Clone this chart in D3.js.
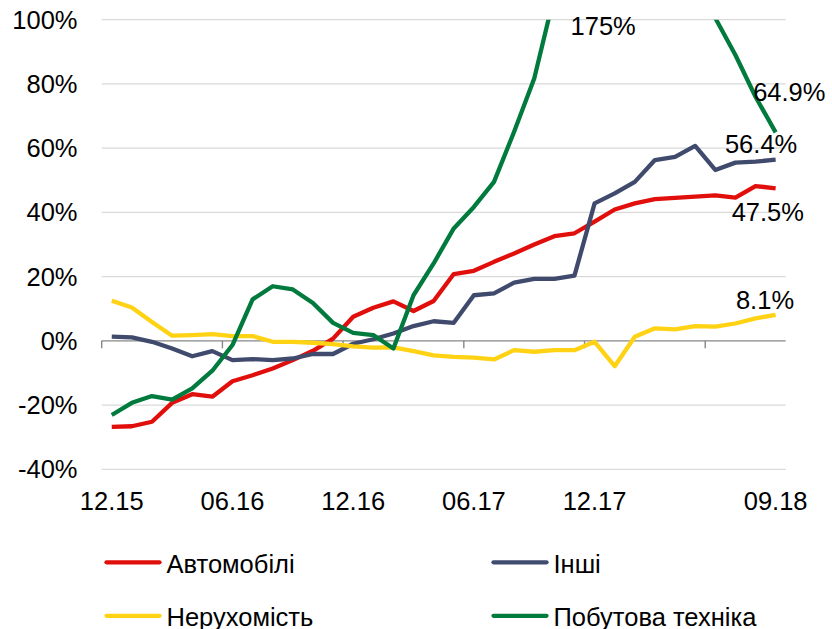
<!DOCTYPE html>
<html>
<head>
<meta charset="utf-8">
<script src="https://cdn.jsdelivr.net/npm/d3@7"></script>
<style>
  html, body { margin: 0; padding: 0; background: #fff; }
  svg { display: block; }
</style>
</head>
<body>
<svg id="chart" width="832" height="629"></svg>
<script>
const categories = ["12.15","01.16","02.16","03.16","04.16","05.16","06.16","07.16","08.16","09.16","10.16","11.16",
  "12.16","01.17","02.17","03.17","04.17","05.17","06.17","07.17","08.17","09.17","10.17","11.17",
  "12.17","01.18","02.18","03.18","04.18","05.18","06.18","07.18","08.18","09.18"];
const tickLabels = ["12.15","06.16","12.16","06.17","12.17","09.18"];
const yTicks = [-40,-20,0,20,40,60,80,100];

const seriesNames = ["Автомобілі","Інші","Нерухомість","Побутова техніка"];
const auto = [-26.8,-26.6,-25.2,-19.3,-16.6,-17.4,-12.6,-10.7,-8.6,-6.0,-3.1,0.7,7.5,10.3,12.3,9.3,12.4,20.8,21.8,24.6,27.2,30.0,32.6,33.5,37.1,40.9,42.8,44.1,44.5,44.9,45.3,44.6,48.2,47.5];
const other = [1.3,1.1,-0.3,-2.4,-4.8,-3.2,-6.0,-5.7,-6.0,-5.5,-4.1,-4.1,-0.9,0.5,2.3,4.6,6.1,5.6,14.2,14.8,18.1,19.3,19.3,20.3,42.8,45.9,49.5,56.3,57.3,60.7,53.2,55.5,55.8,56.4];
const realty = [12.5,10.4,5.9,1.6,1.8,2.1,1.5,1.5,-0.3,-0.3,-0.6,-1.0,-1.7,-2.1,-2.0,-3.2,-4.5,-5.0,-5.2,-5.8,-2.9,-3.4,-2.9,-2.9,-0.3,-7.9,1.3,3.9,3.6,4.6,4.4,5.4,7.0,8.1];
const appliances = [-23.1,-19.3,-17.2,-18.3,-14.8,-9.3,-1.3,12.9,17.0,16.0,11.8,5.6,2.5,1.8,-2.4,14.2,24.1,35.0,41.7,49.5,65.1,81.7,107.6,135,160,175,168,150,130,115,100.5,89.0,76.0,64.9];
const colors = ["#E10F0B","#3F4A6D","#FFD214","#007A3D"];

const svg = d3.select("#chart");
const plotLeft = 101.7, plotRight = 785.7, plotTop = 19.7, plotBottom = 469.3;
const x = d3.scaleBand().domain(categories).range([plotLeft, plotRight]).padding(0);
const y = d3.scaleLinear().domain([-40, 100]).range([plotBottom, plotTop]);
const cx = c => x(c) + x.bandwidth() / 2;
const FONT = "'Liberation Sans', Arial, sans-serif";

// gridlines
svg.append("g").selectAll("line").data(yTicks.filter(d => d !== 0)).join("line")
  .attr("x1", plotLeft).attr("x2", plotRight)
  .attr("y1", d => y(d)).attr("y2", d => y(d))
  .attr("stroke", "#d9d9d9").attr("stroke-width", 1.2);

// y labels
svg.append("g").selectAll("text").data(yTicks).join("text")
  .attr("x", 77.5).attr("y", d => y(d) + 9)
  .attr("text-anchor", "end")
  .style("font-family", FONT).style("font-size", "25.5px").attr("fill", "#000")
  .text(d => d + "%");

// zero axis
svg.append("line").attr("x1", plotLeft).attr("x2", plotRight).attr("y1", y(0)).attr("y2", y(0))
  .attr("stroke", "#878787").attr("stroke-width", 1.4);
const tickIdx = [0, 6, 12, 18, 24, 30];
svg.append("g").selectAll("line").data(tickIdx).join("line")
  .attr("x1", i => x(categories[i])).attr("x2", i => x(categories[i]))
  .attr("y1", y(0)).attr("y2", y(0) + 7.5)
  .attr("stroke", "#878787").attr("stroke-width", 1.4);

// x labels
svg.append("g").selectAll("text").data(tickLabels).join("text")
  .attr("x", d => cx(d)).attr("y", 510)
  .attr("text-anchor", "middle")
  .style("font-family", FONT).style("font-size", "25.5px").attr("fill", "#000")
  .text(d => d);

// clip
svg.append("clipPath").attr("id", "clip").append("rect")
  .attr("x", 0).attr("y", plotTop).attr("width", 832).attr("height", 629 - plotTop);

const allSeries = [auto, other, realty, appliances];
const line = d3.line().x((d, i) => cx(categories[i])).y(d => y(d));
svg.append("g").attr("clip-path", "url(#clip)").selectAll("path").data(allSeries).join("path")
  .attr("d", d => line(d))
  .attr("fill", "none")
  .attr("stroke", (d, i) => colors[i])
  .attr("stroke-width", 4.3)
  .attr("stroke-linejoin", "round");

// data labels
const last = categories.length - 1;
const lx = cx(categories[last]);
const labels = [
  {text: "64.9%", v: appliances[last], dx: -22.5, dy: -31.4},
  {text: "56.4%", v: other[last], dx: -50.7, dy: -6.4},
  {text: "47.5%", v: auto[last], dx: -44, dy: 32.5},
  {text: "8.1%", v: realty[last], dx: -39.7, dy: -5.4}
];
svg.append("g").selectAll("text").data(labels).join("text")
  .attr("x", d => lx + d.dx).attr("y", d => y(d.v) + d.dy)
  .style("font-family", FONT).style("font-size", "25.5px").attr("fill", "#000")
  .text(d => d.text);
// peak label
const peakIdx = appliances.indexOf(d3.max(appliances));
svg.append("text")
  .attr("x", (cx(categories[peakIdx]) + cx(categories[peakIdx - 1])) / 2 - 1.5)
  .attr("y", y(100) + 15.5)
  .attr("text-anchor", "middle")
  .style("font-family", FONT).style("font-size", "25.5px").attr("fill", "#000")
  .text(d3.max(appliances) + "%");

// legend
const legendPos = [
  {lx: 106.5, ty: 573.3, ly: 562.3},
  {lx: 493.5, ty: 573.3, ly: 562.3},
  {lx: 106.5, ty: 625.6, ly: 615.8},
  {lx: 493.5, ty: 625.6, ly: 615.8}
];
const lg = svg.append("g").selectAll("g").data(seriesNames).join("g");
lg.append("line")
  .attr("x1", (d, i) => legendPos[i].lx).attr("x2", (d, i) => legendPos[i].lx + 53)
  .attr("y1", (d, i) => legendPos[i].ly).attr("y2", (d, i) => legendPos[i].ly)
  .attr("stroke", (d, i) => colors[i]).attr("stroke-width", 4.3).attr("stroke-linecap", "round");
lg.append("text")
  .attr("x", (d, i) => legendPos[i].lx + 60).attr("y", (d, i) => legendPos[i].ty)
  .style("font-family", FONT)
  .style("font-size", "25.5px").attr("fill", "#000")
  .text(d => d);
</script>
</body>
</html>
